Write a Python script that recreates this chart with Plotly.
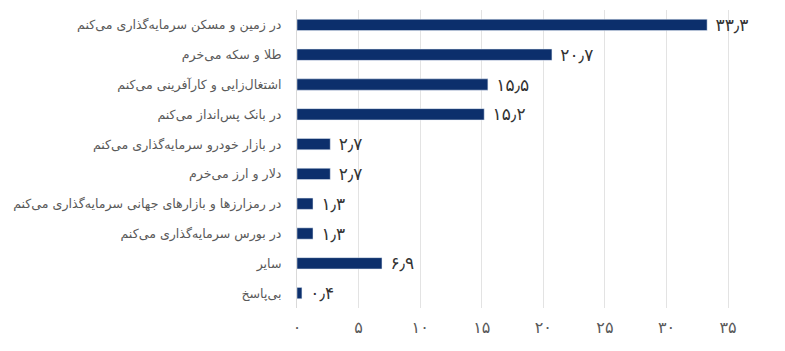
import plotly.graph_objects as go

categories = [
    "در زمین و مسکن سرمایه‌گذاری می‌کنم",
    "طلا و سکه می‌خرم",
    "اشتغال‌زایی و کارآفرینی می‌کنم",
    "در بانک پس‌انداز می‌کنم",
    "در بازار خودرو سرمایه‌گذاری می‌کنم",
    "دلار و ارز می‌خرم",
    "در رمزارزها و بازارهای جهانی سرمایه‌گذاری می‌کنم",
    "در بورس سرمایه‌گذاری می‌کنم",
    "سایر",
    "بی‌پاسخ",
]
values = [33.3, 20.7, 15.5, 15.2, 2.7, 2.7, 1.3, 1.3, 6.9, 0.4]
tick_vals = [0, 5, 10, 15, 20, 25, 30, 35]

fa_digits = str.maketrans("0123456789.", "۰۱۲۳۴۵۶۷۸۹٫")
def fa(s):
    return str(s).translate(fa_digits)

value_text = ["\u00a0" + fa(v) for v in values]
tick_text = [fa(t) for t in tick_vals]

fig = go.Figure(go.Bar(
    x=values,
    y=categories,
    orientation="h",
    marker=dict(color="#0c2f6c"),
    width=0.38,
    text=value_text,
    textposition="outside",
    constraintext="none",
    cliponaxis=False,
    textfont=dict(size=17, color="#333333", family="DejaVu Sans"),
))

fig.update_layout(
    width=785, height=351,
    margin=dict(l=297, r=20, t=10, b=43, autoexpand=False),
    plot_bgcolor="white", paper_bgcolor="white",
    showlegend=False,
    font=dict(family="DejaVu Sans", color="#595959"),
    xaxis=dict(
        range=[0, 38], tickvals=tick_vals, ticktext=tick_text,
        showgrid=True, gridcolor="#e3e3e3", gridwidth=1,
        zeroline=False, showline=False, automargin=False,
        tickfont=dict(size=16, color="#595959"),
        ticks="", ticklabelstandoff=8,
    ),
    yaxis=dict(
        autorange="reversed", automargin=False,
        showline=True, linecolor="#d9d9d9", linewidth=1,
        ticks="", tickfont=dict(size=12.6, color="#595959"),
        ticklabelstandoff=12,
    ),
)

fig.write_html("out.html")
